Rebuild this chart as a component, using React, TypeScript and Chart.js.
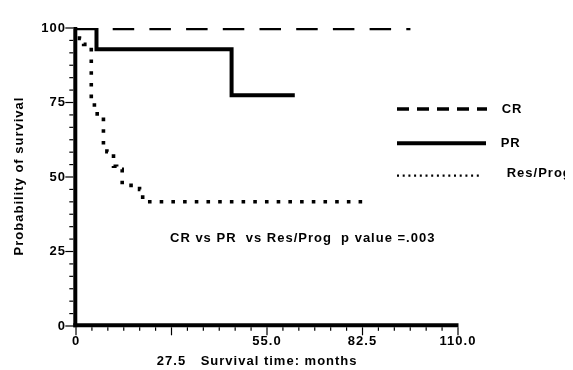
import React, { useEffect, useRef } from "react";
import { Chart, registerables } from "chart.js";

Chart.register(...registerables);

// ---- data ----
const seriesNames = ["CR", "PR", "Res/Prog"];
const crTime = [0, 96.3];
const crSurv = [100, 100];
const prTime = [0, 5.9, 44.8, 63];
const prSurv = [100, 92.9, 77.4, 77.4];
const resTime = [0, 1, 2.2, 4.4, 5.3, 6.1, 7.9, 8.9, 10.8, 11.7, 13.3, 18.3, 19.2, 82.5];
const resSurv = [100, 96.5, 94.5, 75, 72, 70.2, 59.5, 58.5, 53.6, 52.6, 47.2, 45.8, 41.7, 41.7];

const xTickValues = [0, 27.5, 55, 82.5, 110];
const xTickLabels = ["0", "27.5", "55.0", "82.5", "110.0"];
const yTickValues = [0, 25, 50, 75, 100];
const yTickLabels = ["0", "25", "50", "75", "100"];
const xMinorPerMajor = 6;
const yMinorPerMajor = 6;

const xTitle = "Survival time: months";
const yTitle = "Probability of survival";
const annotationText = "CR vs PR  vs Res/Prog  p value =.003";

const FAMILY = '"Liberation Sans", Arial, Helvetica, sans-serif';
const FONT = `bold 13px ${FAMILY}`;

const W = 565;
const H = 362;

const toPoints = (t: number[], s: number[]) => t.map((v, i) => ({ x: v, y: s[i] }));

const decorPlugin = {
  id: "decor",
  beforeDraw(chart: any) {
    chart.ctx.letterSpacing = "1px";
  },
  afterDraw(chart: any) {
    const ctx = chart.ctx;
    const { left, right, top, bottom } = chart.chartArea;
    const xs = chart.scales.x;
    const ys = chart.scales.y;
    ctx.save();
    ctx.letterSpacing = "1px";
    ctx.strokeStyle = "#000";
    ctx.fillStyle = "#000";
    ctx.setLineDash([]);
    ctx.lineCap = "butt";

    // axes
    ctx.lineWidth = 4;
    ctx.beginPath();
    ctx.moveTo(left - 0.7, top - 1);
    ctx.lineTo(left - 0.7, bottom + 1.3);
    ctx.stroke();
    ctx.beginPath();
    ctx.moveTo(left - 2.7, bottom - 0.7);
    ctx.lineTo(right + 0.5, bottom - 0.7);
    ctx.stroke();

    // x ticks
    ctx.lineWidth = 1.2;
    const xMax = xTickValues[xTickValues.length - 1];
    const xN = (xTickValues.length - 1) * xMinorPerMajor;
    for (let i = 0; i <= xN; i++) {
      const px = xs.getPixelForValue((i * xMax) / xN);
      const len = i % xMinorPerMajor === 0 ? 8 : 3.5;
      ctx.beginPath();
      ctx.moveTo(px, bottom + 1.3);
      ctx.lineTo(px, bottom + 1.3 + len);
      ctx.stroke();
    }
    // y ticks
    const yMax = yTickValues[yTickValues.length - 1];
    const yN = (yTickValues.length - 1) * yMinorPerMajor;
    for (let i = 0; i <= yN; i++) {
      const py = ys.getPixelForValue((i * yMax) / yN);
      const len = i % yMinorPerMajor === 0 ? 8 : 4;
      ctx.beginPath();
      ctx.moveTo(left - 2.7, py);
      ctx.lineTo(left - 2.7 - len, py);
      ctx.stroke();
    }

    // titles
    ctx.font = FONT;
    ctx.textBaseline = "middle";
    ctx.textAlign = "left";
    ctx.fillText(xTitle, 192.7, 353);
    ctx.save();
    ctx.translate(11.5, 168);
    ctx.rotate(-Math.PI / 2);
    ctx.textAlign = "center";
    ctx.fillText(yTitle, 0, 0);
    ctx.restore();

    // annotation
    ctx.textAlign = "left";
    ctx.fillText(annotationText, 162, 230);

    // legend
    const legend = [
      { y: 101, x1: 389, x2: 479, dash: [12, 8], w: 3.5, tx: 493.7, ty: 101.5 },
      { y: 135.3, x1: 389, x2: 478, dash: [], w: 4, tx: 492.7, ty: 135 },
      { y: 167.7, x1: 389, x2: 474, dash: [2, 3.7], w: 2.2, tx: 498.7, ty: 165.5 },
    ];
    legend.forEach((l, i) => {
      ctx.lineWidth = l.w;
      ctx.setLineDash(l.dash);
      ctx.beginPath();
      ctx.moveTo(l.x1, l.y);
      ctx.lineTo(l.x2, l.y);
      ctx.stroke();
      ctx.setLineDash([]);
      ctx.fillText(seriesNames[i], l.tx, l.ty);
    });
    ctx.restore();
  },
};

export default function App() {
  const ref = useRef<HTMLCanvasElement>(null);
  useEffect(() => {
    const canvas = ref.current!;
    const tickFont = { family: FAMILY, size: 13, weight: "bold" as const, lineHeight: 20 / 13 };
    const chart = new Chart(canvas, {
      type: "line",
      data: {
        datasets: [
          {
            label: seriesNames[0],
            data: toPoints(crTime, crSurv),
            borderColor: "#000",
            borderWidth: 4.5,
            borderDash: [21.5, 15.2],
            borderCapStyle: "butt",
            pointRadius: 0,
            stepped: true,
            fill: false,
          },
          {
            label: seriesNames[1],
            data: toPoints(prTime, prSurv),
            borderColor: "#000",
            borderWidth: 4,
            borderCapStyle: "butt",
            borderJoinStyle: "miter",
            pointRadius: 0,
            stepped: true,
            fill: false,
          },
          {
            label: seriesNames[2],
            data: toPoints(resTime, resSurv),
            borderColor: "#000",
            borderWidth: 3.6,
            borderDash: [3.6, 8.1],
            borderCapStyle: "butt",
            pointRadius: 0,
            stepped: true,
            fill: false,
          },
        ],
      },
      options: {
        animation: false,
        responsive: false,
        devicePixelRatio: 1,
        layout: { padding: { top: 14, right: W - 450, left: 0, bottom: 0 } },
        plugins: { legend: { display: false }, tooltip: { enabled: false } },
        scales: {
          x: {
            type: "linear",
            min: 0,
            max: 110,
            afterBuildTicks: (s: any) => {
              s.ticks = xTickValues.map((v) => ({ value: v }));
            },
            afterFit: (s: any) => {
              s.height = H - 318;
            },
            grid: { display: false, drawTicks: false },
            border: { display: false },
            ticks: {
              autoSkip: false,
              maxRotation: 0,
              padding: 5,
              color: "#000",
              font: tickFont,
              callback: (value: any) => {
                const i = xTickValues.indexOf(Number(value));
                const lab = i >= 0 ? xTickLabels[i] : "";
                return i === 1 ? ["", lab] : lab;
              },
            },
          },
          y: {
            type: "linear",
            min: 0,
            max: 100,
            afterBuildTicks: (s: any) => {
              s.ticks = yTickValues.map((v) => ({ value: v }));
            },
            afterFit: (s: any) => {
              s.width = 68;
            },
            grid: { display: false, drawTicks: false },
            border: { display: false },
            ticks: {
              padding: 10,
              color: "#000",
              font: tickFont,
              callback: (value: any) => {
                const i = yTickValues.indexOf(Number(value));
                return i >= 0 ? yTickLabels[i] : "";
              },
            },
          },
        },
      },
      plugins: [decorPlugin],
    } as any);
    return () => chart.destroy();
  }, []);
  return (
    <div style={{ width: W, height: H }}>
      <canvas ref={ref} width={W} height={H} style={{ display: "block", width: W, height: H }} />
    </div>
  );
}
